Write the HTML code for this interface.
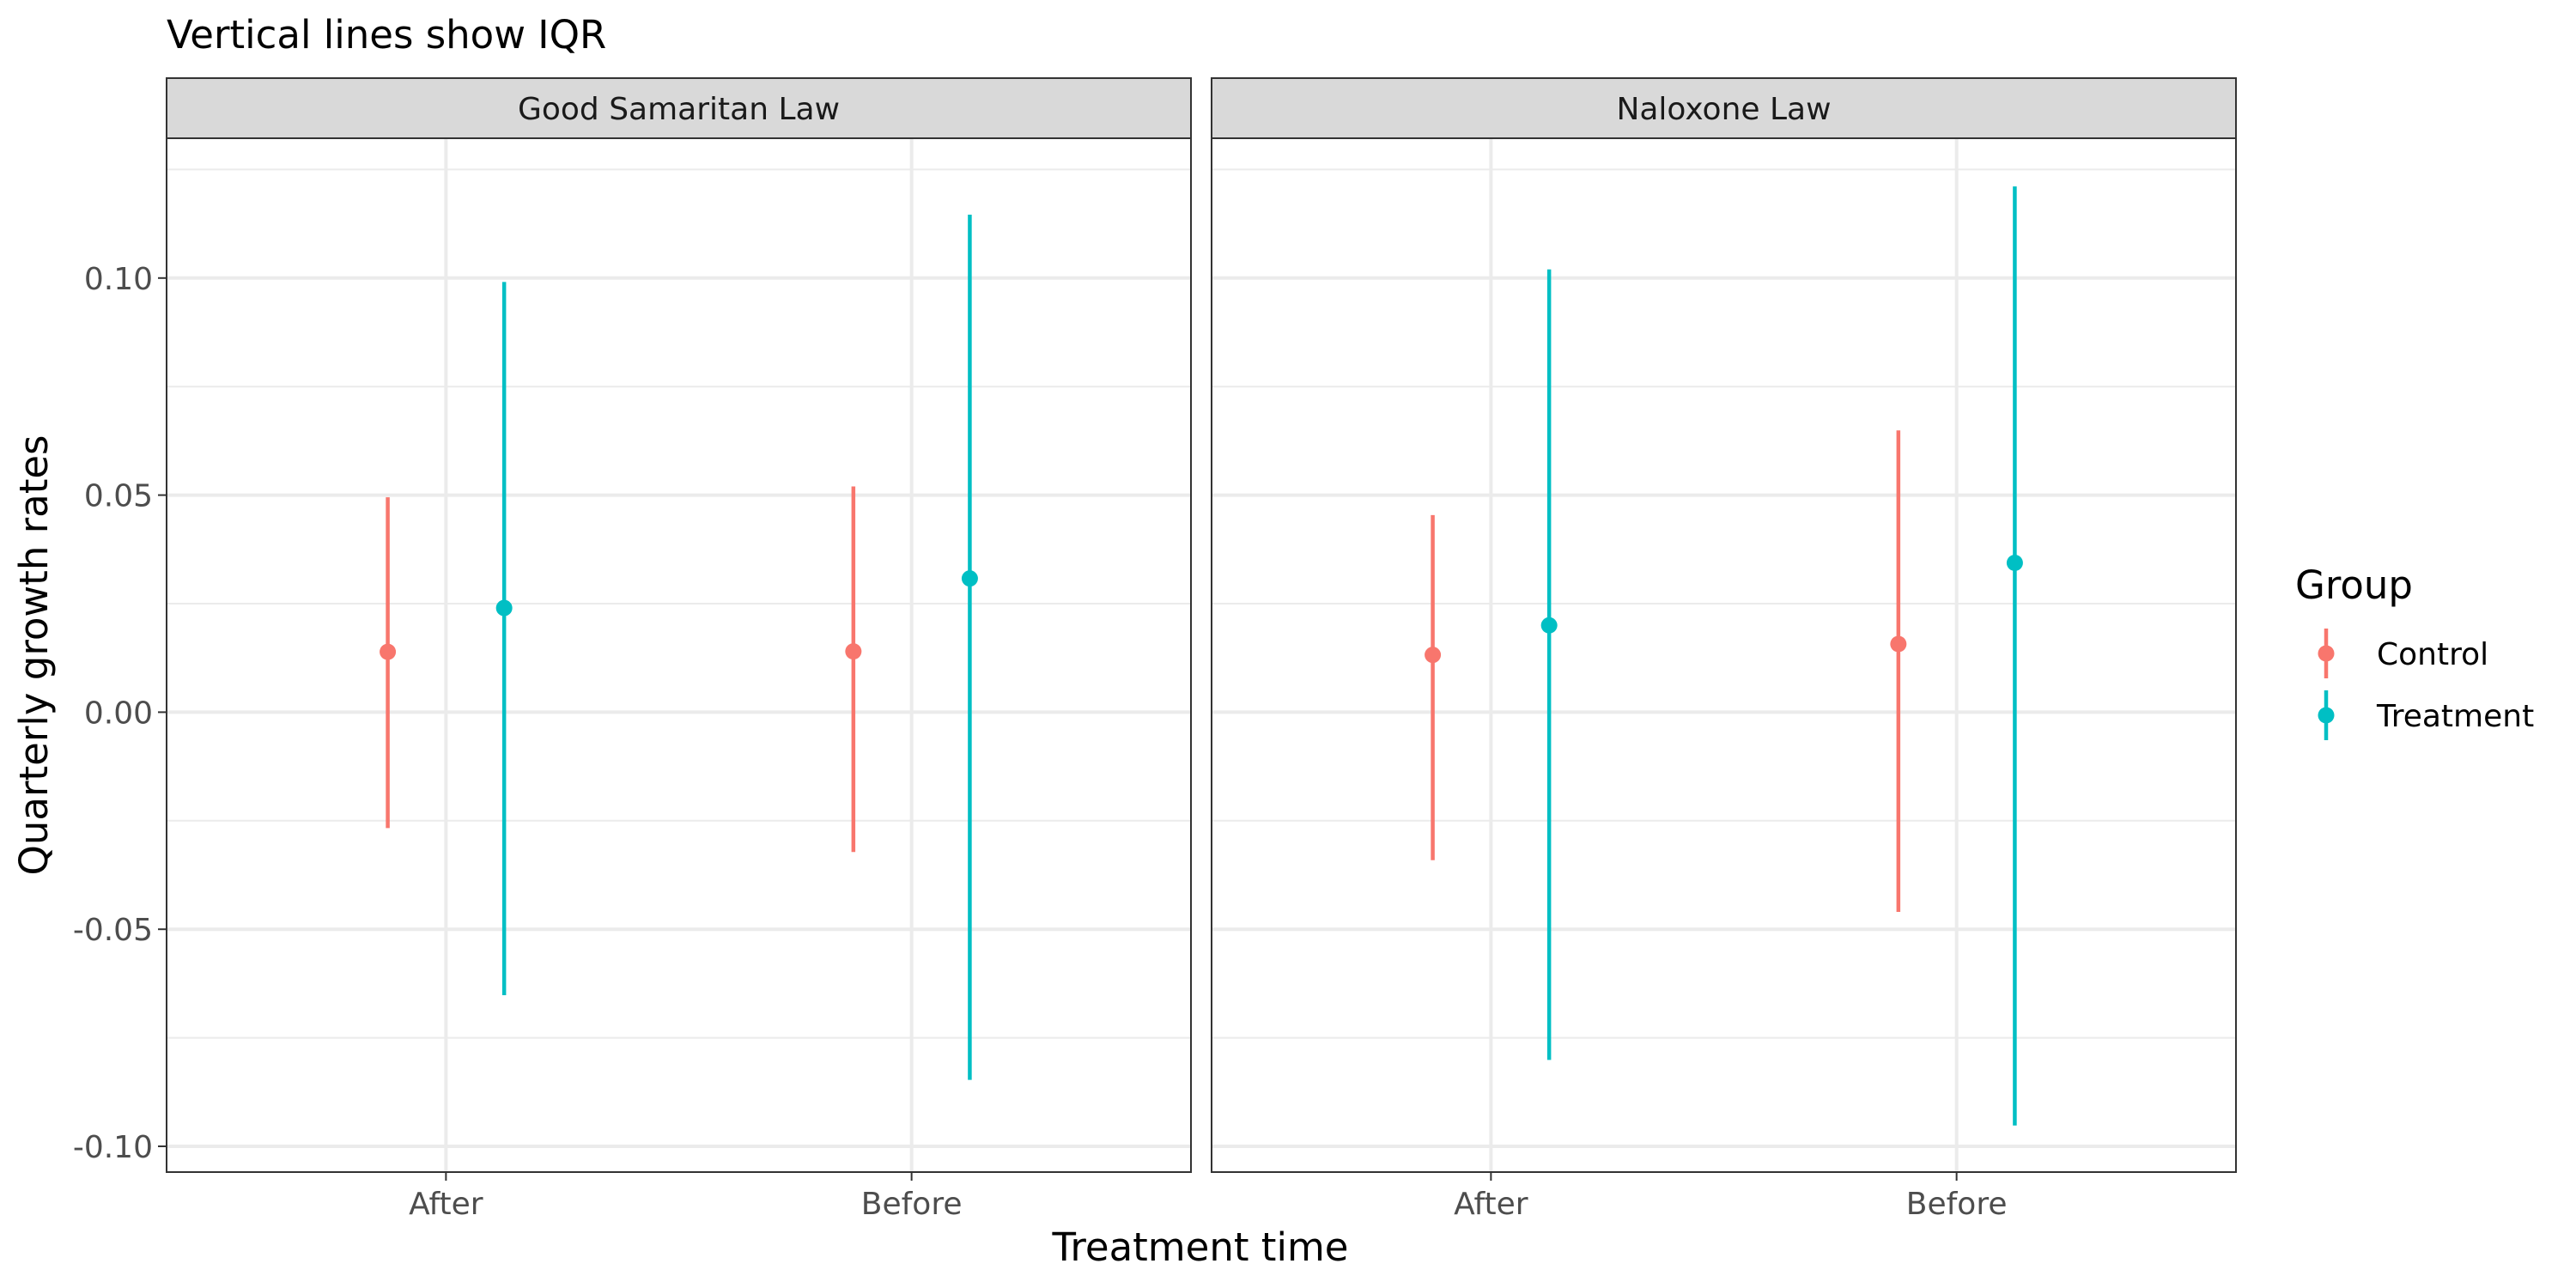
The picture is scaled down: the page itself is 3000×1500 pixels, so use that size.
<!DOCTYPE html>
<html><head><meta charset="utf-8">
<style>
html,body{margin:0;padding:0;background:#fff;}
svg{display:block;font-family:"DejaVu Sans","Liberation Sans",sans-serif;}
</style></head>
<body>
<svg id="chart" width="3000" height="1500" viewBox="0 0 3000 1500" xmlns="http://www.w3.org/2000/svg">
<rect x="0" y="0" width="3000" height="1500" fill="#fff"/>
<text x="194" y="56" font-size="45" fill="#000">Vertical lines show IQR</text>
<g id="plots"></g>
<text transform="translate(55,763) rotate(-90)" text-anchor="middle" font-size="45" fill="#000">Quarterly growth rates</text>
<text x="1398" y="1468" text-anchor="middle" font-size="45" fill="#000">Treatment time</text>
<g>
<text x="2673" y="697" font-size="45" fill="#000">Group</text>
<line x1="2709" y1="732" x2="2709" y2="790" stroke="#F8766D" stroke-width="4.5"/>
<circle cx="2709" cy="761" r="9.5" fill="#F8766D"/>
<text x="2768" y="774" font-size="36" fill="#000">Control</text>
<line x1="2709" y1="804" x2="2709" y2="862" stroke="#00BFC4" stroke-width="4.5"/>
<circle cx="2709" cy="833" r="9.5" fill="#00BFC4"/>
<text x="2768" y="846" font-size="36" fill="#000">Treatment</text>
</g>
</svg>
<script>
const panels = ["Good Samaritan Law", "Naloxone Law"];
const categories = ["After", "Before"];
const groups = ["Control", "Treatment"];
const groupColors = ["#F8766D", "#00BFC4"];
// [panel][category][group]
const medians = [[[0.0139, 0.0240], [0.0140, 0.0308]], [[0.0132, 0.0200], [0.0157, 0.0344]]];
const q25 = [[[-0.0267, -0.0652], [-0.0322, -0.0847]], [[-0.0341, -0.0801], [-0.0460, -0.0952]]];
const q75 = [[[0.0495, 0.0991], [0.0520, 0.1146]], [[0.0454, 0.1020], [0.0649, 0.1211]]];
const majorTicks = [-0.10, -0.05, 0.00, 0.05, 0.10];
const majorLabels = ["-0.10", "-0.05", "0.00", "0.05", "0.10"];
const minorTicks = [-0.075, -0.025, 0.025, 0.075, 0.125];

const NS = "http://www.w3.org/2000/svg";
const plotG = document.getElementById("plots");
const panelLeft = [194, 1411], panelW = 1193, panelTop = 161, panelBottom = 1365, stripTop = 91;
function yScale(v) { return 829.4 - v * 5056; }
function xScale(p, c) { return panelLeft[p] + (c + 1 - 0.4) * panelW / 2.2; }
function mk(tag, attrs, parent) {
  const e = document.createElementNS(NS, tag);
  for (const k in attrs) e.setAttribute(k, attrs[k]);
  (parent || plotG).appendChild(e);
  return e;
}
panels.forEach((name, p) => {
  const L = panelLeft[p], R = L + panelW;
  const pg = mk("g", {});
  
  
  mk("rect", {x: L, y: panelTop, width: panelW, height: panelBottom - panelTop, fill: "#fff"}, pg);
  minorTicks.forEach(v => {
    const l = mk("line", {x1: L, x2: R, y1: yScale(v), y2: yScale(v), stroke: "#EBEBEB", "stroke-width": 2}, pg);
    
    
  });
  majorTicks.forEach(v => {
    const l = mk("line", {x1: L, x2: R, y1: yScale(v), y2: yScale(v), stroke: "#EBEBEB", "stroke-width": 4}, pg);
    
    
  });
  categories.forEach((c, ci) => {
    const x = xScale(p, ci);
    const l = mk("line", {x1: x, x2: x, y1: panelTop, y2: panelBottom, stroke: "#EBEBEB", "stroke-width": 4}, pg);
    
    
    const t = mk("line", {x1: x, x2: x, y1: panelBottom, y2: panelBottom + 10, stroke: "#333", "stroke-width": 2}, pg);
    
    
    const tx = mk("text", {x: x, y: 1414, "text-anchor": "middle", "font-size": 36, fill: "#4D4D4D"}, pg);
    tx.textContent = c;
    
    
  });
  categories.forEach((c, ci) => {
    groups.forEach((gr, gi) => {
      const x = xScale(p, ci) + (gi === 0 ? -0.125 : 0.125) * panelW / 2.2;
      const ln = mk("line", {x1: x, x2: x, y1: yScale(q75[p][ci][gi]), y2: yScale(q25[p][ci][gi]), stroke: groupColors[gi], "stroke-width": 4.5}, pg);
      
      
      const pt = mk("circle", {cx: x, cy: yScale(medians[p][ci][gi]), r: 9.5, fill: groupColors[gi]}, pg);
      
      
    });
  });
  const border = mk("rect", {x: L, y: panelTop, width: panelW, height: panelBottom - panelTop, fill: "none", stroke: "#333", "stroke-width": 2}, pg);
  
  
  const strip = mk("rect", {x: L, y: stripTop, width: panelW, height: panelTop - stripTop, fill: "#D9D9D9", stroke: "#333", "stroke-width": 2}, pg);
  
  
  const st = mk("text", {x: L + panelW / 2, y: 139, "text-anchor": "middle", "font-size": 36, fill: "#1A1A1A"}, pg);
  st.textContent = name;
  
  
  if (p === 0) {
    majorTicks.forEach((v, i) => {
      const t = mk("line", {x1: L - 10, x2: L, y1: yScale(v), y2: yScale(v), stroke: "#333", "stroke-width": 2}, pg);
      
      
      const tx = mk("text", {x: L - 16, y: yScale(v) + 13, "text-anchor": "end", "font-size": 36, fill: "#4D4D4D"}, pg);
      tx.textContent = majorLabels[i];
      
      
    });
  }
});
</script>
</body></html>
